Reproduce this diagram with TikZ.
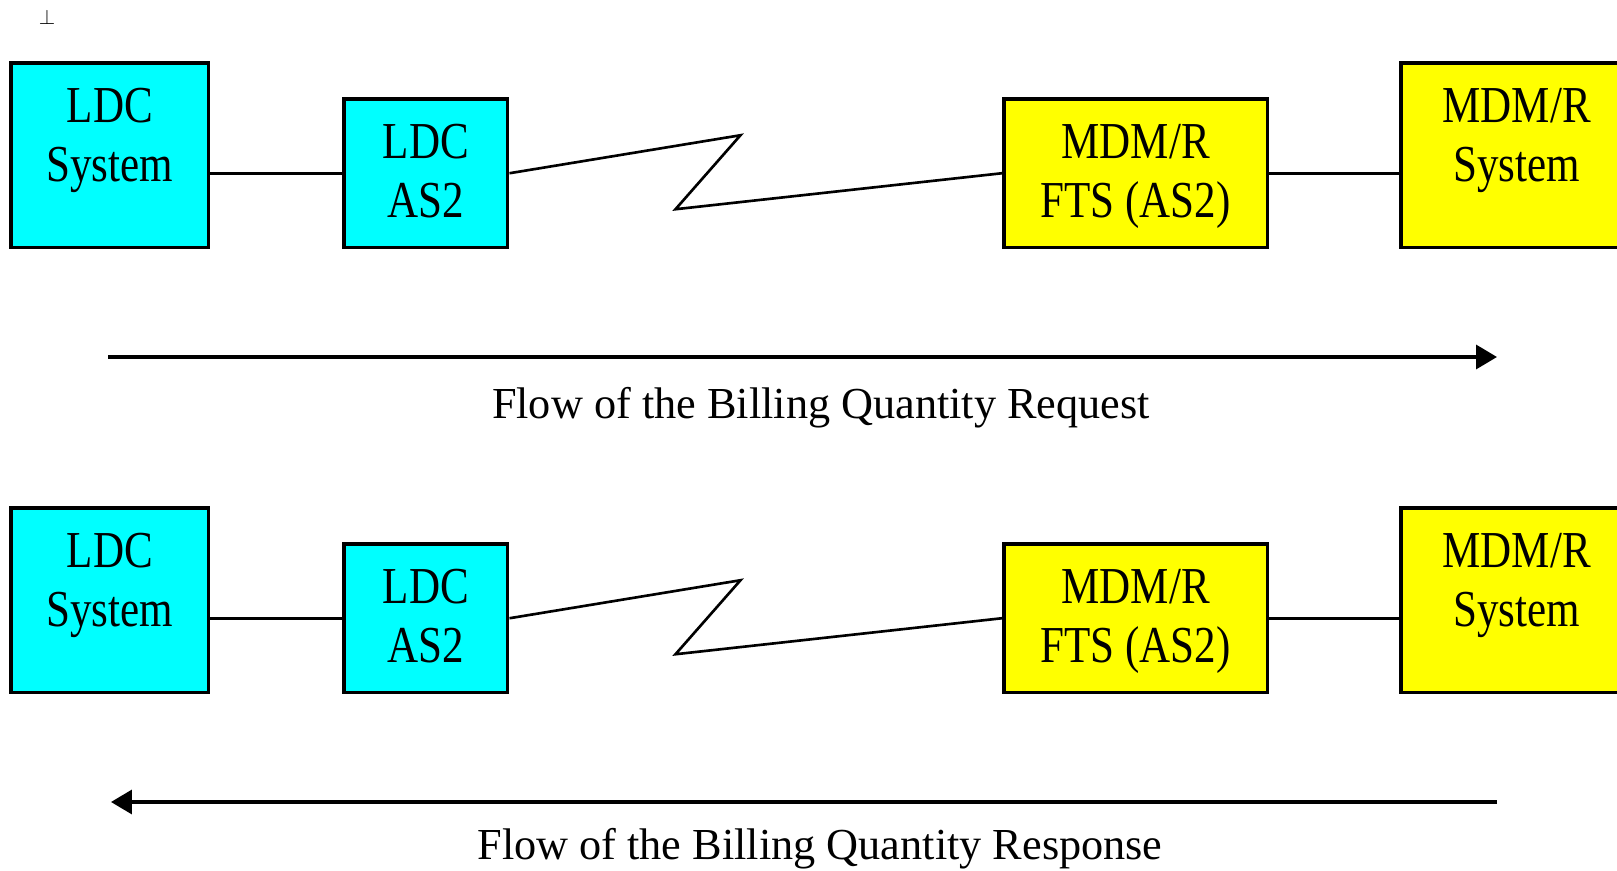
\documentclass[tikz,border=0pt]{standalone}
\usepackage{fontspec}
\setmainfont{Liberation Serif}
\newfontfamily\boxfont{Liberation Serif}[FakeStretch=0.83]
\usetikzlibrary{arrows.meta,positioning}
\definecolor{ldccyan}{RGB}{0,255,255}
\definecolor{mdmyellow}{RGB}{255,255,0}

\begin{document}
\begin{tikzpicture}[x=0.02cm,y=-0.02cm,
	ldcbox/.style={draw,line width=2pt,fill=ldccyan,anchor=north west,inner sep=0pt},
	mdmbox/.style={draw,line width=2pt,fill=mdmyellow,anchor=north west,inner sep=0pt},
	tallbox/.style={minimum height=3.7cm},
	shortbox/.style={minimum height=2.98cm},
	boxtext/.style={inner sep=0pt,align=center,font=\boxfont\fontsize{29.5}{33.5}\selectfont},
	link/.style={line width=1.5pt},
	flowarrow/.style={line width=2pt,-{Triangle[length=0.42cm,width=0.48cm]}},
	flowtext/.style={anchor=base,inner sep=0pt,font=\fontsize{25.2}{30}\selectfont}]
%	\draw (0,0) rectangle (1617,871);
	\useasboundingbox (0,0) rectangle (1617,871);
	\node (mark) at (47,17) {\fontsize{12}{12}\selectfont$\perp$};

	\begin{scope}
		\node[ldcbox,tallbox,minimum width=3.96cm] (ldcsysA) at (9,61) {};
		\node[ldcbox,shortbox,minimum width=3.28cm] (ldcasA) at (342,97) {};
		\node[mdmbox,shortbox,minimum width=5.28cm] (ftsA) at (1002,97) {};
		\node[mdmbox,tallbox,minimum width=4.64cm] (mdmsysA) at (1399,61) {};

		\node[boxtext,below=0.54cm of ldcsysA.north] (ldcsysAtext) {LDC\\System};
		\node[boxtext,below=0.54cm of ldcasA.north] (ldcasAtext) {LDC\\AS2};
		\node[boxtext,below=0.54cm of ftsA.north] (ftsAtext) {MDM/R\\FTS (AS2)};
		\node[boxtext,below=0.54cm of mdmsysA.north] (mdmsysAtext) {MDM/R\\System};

		\draw[link] (ldcasA.west -| ldcsysA.east) -- (ldcasA.west);
		\draw[link] (ldcasA.east) -- ++(231,-38) -- ++(-65,74) -- (ftsA.west);
		\draw[link] (ftsA.east) -- (ftsA.east -| mdmsysA.west);

		\coordinate (reqstart) at (108,357);
		\coordinate (reqend) at (1497,357);
		\draw[flowarrow] (reqstart) -- (reqend);
		\node[flowtext] (reqtext) at (821,419) {Flow of the Billing Quantity Request};
	\end{scope}

	\begin{scope}[shift={(0,445)}]
		\node[ldcbox,tallbox,minimum width=3.96cm] (ldcsysB) at (9,61) {};
		\node[ldcbox,shortbox,minimum width=3.28cm] (ldcasB) at (342,97) {};
		\node[mdmbox,shortbox,minimum width=5.28cm] (ftsB) at (1002,97) {};
		\node[mdmbox,tallbox,minimum width=4.64cm] (mdmsysB) at (1399,61) {};

		\node[boxtext,below=0.54cm of ldcsysB.north] (ldcsysBtext) {LDC\\System};
		\node[boxtext,below=0.54cm of ldcasB.north] (ldcasBtext) {LDC\\AS2};
		\node[boxtext,below=0.54cm of ftsB.north] (ftsBtext) {MDM/R\\FTS (AS2)};
		\node[boxtext,below=0.54cm of mdmsysB.north] (mdmsysBtext) {MDM/R\\System};

		\draw[link] (ldcasB.west -| ldcsysB.east) -- (ldcasB.west);
		\draw[link] (ldcasB.east) -- ++(231,-38) -- ++(-65,74) -- (ftsB.west);
		\draw[link] (ftsB.east) -- (ftsB.east -| mdmsysB.west);

		\coordinate (resstart) at (1497,357);
		\coordinate (resend) at (111,357);
		\draw[flowarrow] (resstart) -- (resend);
		\node[flowtext] (restext) at (820,414) {Flow of the Billing Quantity Response};
	\end{scope}
\end{tikzpicture}
\end{document}
